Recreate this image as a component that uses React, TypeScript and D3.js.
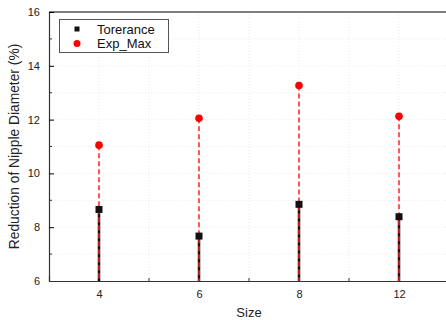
import { useEffect, useRef } from "react"
import * as d3 from "d3"

const sizes = ["4", "6", "8", "12"]
const tolerance = [8.66, 7.67, 8.85, 8.39]
const expMax = [11.05, 12.05, 13.27, 12.12]
const yTicks = [6, 8, 10, 12, 14, 16]

export default function App() {
  const svgRef = useRef<SVGSVGElement>(null)

  useEffect(() => {
    if (!svgRef.current) return
    const svg = d3.select(svgRef.current)
    svg.selectAll("*").remove()

    const left = 49
    const top = 12
    const right = 449
    const bottom = 281
    const font = "Arial, 'Liberation Sans', sans-serif"

    const x = d3.scaleLinear().domain([-0.5, 3.5]).range([left, right])
    const y = d3.scaleLinear().domain([6, 16]).range([bottom, top])

    // 그리드
    const gridX = d3.range(-0.5, 3.51, 0.5).slice(1)
    const gridY = d3.range(7, 16, 1)
    svg.append("g")
      .selectAll("line")
      .data(gridX)
      .join("line")
      .attr("x1", (d) => x(d))
      .attr("x2", (d) => x(d))
      .attr("y1", top)
      .attr("y2", bottom)
      .attr("stroke", "#ebebeb")
      .attr("stroke-dasharray", "1,2")
    svg.append("g")
      .selectAll("line")
      .data(gridY)
      .join("line")
      .attr("x1", left)
      .attr("x2", right)
      .attr("y1", (d) => y(d))
      .attr("y2", (d) => y(d))
      .attr("stroke", "#ebebeb")
      .attr("stroke-dasharray", "1,2")

    // 프레임
    svg.append("line")
      .attr("x1", left).attr("x2", right).attr("y1", top).attr("y2", top)
      .attr("stroke", "#555").attr("stroke-width", 1.5)

    // 축
    const yAxis = svg.append("g")
      .attr("transform", `translate(${left},0)`)
      .call(d3.axisLeft(y).tickValues(yTicks).tickSize(-5).tickPadding(9).tickFormat(d3.format("d")))
    yAxis.select(".domain").attr("stroke", "#333").attr("stroke-width", 1.2)
    yAxis.selectAll("text").attr("font-family", font).attr("font-size", 11).attr("fill", "#222")
    svg.append("g")
      .selectAll("line")
      .data(d3.range(7, 16, 2))
      .join("line")
      .attr("x1", left).attr("x2", left + 3)
      .attr("y1", (d) => y(d)).attr("y2", (d) => y(d))
      .attr("stroke", "#333")

    const xAxis = svg.append("g")
      .attr("transform", `translate(0,${bottom})`)
      .call(
        d3.axisBottom(x)
          .tickValues(d3.range(sizes.length))
          .tickSize(-5)
          .tickPadding(9)
          .tickFormat((d) => sizes[d as number]),
      )
    xAxis.select(".domain").attr("stroke", "#333").attr("stroke-width", 1.2)
    xAxis.selectAll("text").attr("font-family", font).attr("font-size", 11).attr("fill", "#222")
    svg.append("g")
      .selectAll("line")
      .data([0.5, 1.5, 2.5])
      .join("line")
      .attr("x1", (d) => x(d)).attr("x2", (d) => x(d))
      .attr("y1", bottom).attr("y2", bottom - 3)
      .attr("stroke", "#333")

    // 드롭 라인
    svg.append("g")
      .selectAll("line")
      .data(tolerance)
      .join("line")
      .attr("x1", (_, i) => x(i)).attr("x2", (_, i) => x(i))
      .attr("y1", (d) => y(d)).attr("y2", bottom)
      .attr("stroke", "#111").attr("stroke-width", 2.5)
    svg.append("g")
      .selectAll("line")
      .data(expMax)
      .join("line")
      .attr("x1", (_, i) => x(i)).attr("x2", (_, i) => x(i))
      .attr("y1", (d) => y(d)).attr("y2", bottom)
      .attr("stroke", "#f22").attr("stroke-width", 1.5)
      .attr("stroke-dasharray", "5,3")

    // 마커
    svg.append("g")
      .selectAll("rect")
      .data(tolerance)
      .join("rect")
      .attr("x", (_, i) => x(i) - 3.5).attr("y", (d) => y(d) - 3.5)
      .attr("width", 7).attr("height", 7)
      .attr("fill", "#111")
    svg.append("g")
      .selectAll("circle")
      .data(expMax)
      .join("circle")
      .attr("cx", (_, i) => x(i)).attr("cy", (d) => y(d))
      .attr("r", 3.8)
      .attr("fill", "#f00")

    // 범례
    const lg = svg.append("g")
    lg.append("rect")
      .attr("x", 59.5).attr("y", 19.5).attr("width", 109).attr("height", 33)
      .attr("fill", "white").attr("stroke", "#555")
    lg.append("rect").attr("x", 74.5).attr("y", 26.5).attr("width", 5).attr("height", 5).attr("fill", "#111")
    lg.append("circle").attr("cx", 77).attr("cy", 43.5).attr("r", 3.5).attr("fill", "#f00")
    lg.append("text").attr("x", 97).attr("y", 33.5).text("Torerance")
      .attr("font-family", font).attr("font-size", 13).attr("fill", "#111")
    lg.append("text").attr("x", 97).attr("y", 48).text("Exp_Max")
      .attr("font-family", font).attr("font-size", 13).attr("fill", "#111")

    // 축 레이블
    svg.append("text")
      .attr("transform", `translate(19,${(top + bottom) / 2}) rotate(-90)`)
      .attr("text-anchor", "middle")
      .attr("font-family", font).attr("font-size", 13.8).attr("fill", "#222")
      .text("Reduction of Nipple Diameter (%)")
    svg.append("text")
      .attr("x", (left + right) / 2).attr("y", 317)
      .attr("text-anchor", "middle")
      .attr("font-family", font).attr("font-size", 13).attr("fill", "#222")
      .text("Size")
  }, [])

  return <svg ref={svgRef} width={446} height={320} style={{ position: "absolute", left: 0, top: 0, background: "white" }} />
}
